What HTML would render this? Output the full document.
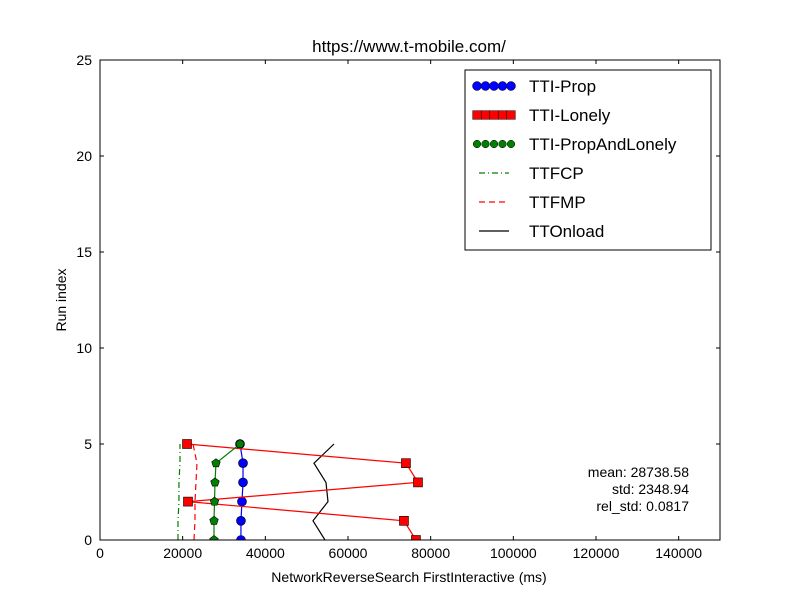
<!DOCTYPE html>
<html><head><meta charset="utf-8"><style>body{margin:0;background:#fff}svg{display:block;font-family:"Liberation Sans",sans-serif}</style></head>
<body>
<svg id="c" width="800" height="600"></svg>
<script>
const runIdx=[0,1,2,3,4,5];
const ttiProp=[34100,34100,34350,34600,34600,33870];
const ttiLonely=[76440,73540,21290,76930,74020,21050];
const ttiPropAndLonely=[27580,27580,27700,27820,28060,33870];
const ttfcp=[18870,18870,19100,19100,19350,19350];
const ttfmp=[22740,22980,22980,23220,23460,22500];
const ttOnload=[54430,51530,55160,54670,51770,56610];
const xTicks=[0,20000,40000,60000,80000,100000,120000,140000];
const yTicks=[0,5,10,15,20,25];
const legendLabels=["TTI-Prop","TTI-Lonely","TTI-PropAndLonely","TTFCP","TTFMP","TTOnload"];
const statsText=["mean: 28738.58","std: 2348.94","rel_std: 0.0817"];
const NS="http://www.w3.org/2000/svg",svg=document.getElementById('c');
const L=100,R=720,T=60,B=540;
const X=v=>L+(v/150000)*(R-L), Y=v=>B-(v/25)*(B-T);
function mk(tag,attrs,parent){const e=document.createElementNS(NS,tag);for(const k in attrs)e.setAttribute(k,attrs[k]);(parent||svg).appendChild(e);return e;}
function txt(s,x,y,size,anchor,name){const t=mk('text',{x:x,y:y,'font-size':size,'text-anchor':anchor||'middle',fill:'#000'});t.textContent=s;


return t;}
const clip=mk('clipPath',{id:'cp'});mk('rect',{x:L,y:T,width:R-L,height:B-T},clip);
const g=mk('g',{'clip-path':'url(#cp)'});


function line(xs,col,dash,name){const p=mk('polyline',{points:xs.map((v,i)=>X(v)+','+Y(runIdx[i])).join(' '),fill:'none',stroke:col,'stroke-width':1.2,'stroke-dasharray':dash||'none'},g);

}
line(ttfcp,'#008000','6,3,1,3','ttfcp-line');
line(ttfmp,'#ff0000','6,4','ttfmp-line');
line(ttOnload,'#000','','ttonload-line');
function series(xs,col,shape,name){line(xs,col,'',name+'-line');xs.forEach((v,i)=>{const cx=X(v),cy=Y(runIdx[i]);let m;
if(shape==='c')m=mk('circle',{cx:cx,cy:cy,r:4.5,fill:col,stroke:'#000','stroke-width':0.6},g);
else if(shape==='s')m=mk('rect',{x:cx-4.5,y:cy-4.5,width:9,height:9,fill:col,stroke:'#000','stroke-width':0.6},g);
else{const pts=[0,1,2,3,4].map(k=>{const a=-Math.PI/2+k*2*Math.PI/5;return (cx+4.5*Math.cos(a))+','+(cy+4.5*Math.sin(a));}).join(' ');m=mk('polygon',{points:pts,fill:col,stroke:'#000','stroke-width':0.6},g);}

});}
series(ttiProp,'#0000ff','c','tti-prop');
series(ttiLonely,'#ff0000','s','tti-lonely');
series(ttiPropAndLonely,'#008000','p','tti-prop-and-lonely');
const fr=mk('rect',{x:L,y:T,width:R-L,height:B-T,fill:'none',stroke:'#000','stroke-width':1});


xTicks.forEach(v=>{mk('line',{x1:X(v),x2:X(v),y1:B,y2:B-4,stroke:'#000'});mk('line',{x1:X(v),x2:X(v),y1:T,y2:T+4,stroke:'#000'});txt(String(v),X(v),558,14,'middle','x-tick-label');});
yTicks.forEach(v=>{mk('line',{x1:L,x2:L+4,y1:Y(v),y2:Y(v),stroke:'#000'});mk('line',{x1:R,x2:R-4,y1:Y(v),y2:Y(v),stroke:'#000'});txt(String(v),92,Y(v)+5,14,'end','y-tick-label');});
txt('https://www.t-mobile.com/',409,52,17,'middle','chart-title');
txt('NetworkReverseSearch FirstInteractive (ms)',409,582,14,'middle','x-axis-title');
const yt=txt('Run index',66,300,14,'middle','y-axis-title');yt.setAttribute('transform','rotate(-90 66 300)');
statsText.forEach((s,i)=>txt(s,689,477+i*17,14,'end','stats-text'));
const lg=mk('g',{});


mk('rect',{x:465,y:70,width:246,height:180,fill:'#fff',stroke:'#000'},lg);
legendLabels.forEach((s,i)=>{const y=86+i*29;
if(i<3){const col=['#0000ff','#ff0000','#008000'][i];for(let k=0;k<5;k++){const cx=477+k*8.5;
if(i===0)mk('circle',{cx:cx,cy:y,r:4.5,fill:col,stroke:'#000','stroke-width':0.5},lg);
else if(i===1)mk('rect',{x:cx-4.3,y:y-4.3,width:8.6,height:8.6,fill:col,stroke:'#000','stroke-width':0.5},lg);
else mk('circle',{cx:cx,cy:y,r:3.8,fill:col,stroke:'#000','stroke-width':0.5},lg);}}
else{const c=['#008000','#ff0000','#000'][i-3],d=['6,3,1,3','6,4','none'][i-3];mk('line',{x1:479,x2:509,y1:y,y2:y,stroke:c,'stroke-width':1.2,'stroke-dasharray':d},lg);}
const t=txt(s,529,y+6,17,'start','legend-label');lg.appendChild(t);});
</script>
</body></html>
